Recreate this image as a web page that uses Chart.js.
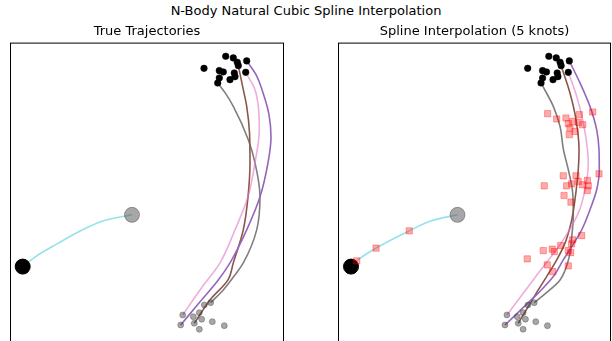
<!DOCTYPE html>
<html>
<head>
<meta charset="utf-8">
<script src="https://cdn.jsdelivr.net/npm/chart.js@4/dist/chart.umd.min.js"></script>
<style>
  html, body { margin: 0; padding: 0; background: #fff; overflow: hidden; width: 612px; height: 341px; }
  #suptitle { position: absolute; left: 0; top: 3px; width: 612px; text-align: center;
              font: 13px "DejaVu Sans"; color: #000; }
  canvas { position: absolute; }
</style>
</head>
<body>
<div id="suptitle">N-Body Natural Cubic Spline Interpolation</div>
<canvas id="trueChart" width="274" height="330" style="left:10px;top:20px"></canvas>
<canvas id="splineChart" width="273" height="330" style="left:338px;top:20px"></canvas>
<script>
// positions of the bodies (x, y)
const startBig = [[12.2, 12.8]];
const endBig = [[1.27, 7.63]];
const startDots = [[17.27, 2.8], [17.07, 1.8], [18.33, 2.63], [18.93, 3.03], [18.43, 1.97], [19.17, 2.37],
  [19.43, 3.8], [20.07, 4.03], [20.23, 2.13], [21.43, 1.73], [18.93, 1.37]];
const endDots = [[21.57, 28.63], [22.33, 28.47], [22.73, 28.03], [22.83, 27.7], [23.67, 28.17], [19.4, 27.43],
  [20.93, 27.2], [21.33, 27.07], [22.43, 26.97], [22.5, 26.6], [23.57, 27.03], [22.0, 26.3], [20.93, 26.47], [20.77, 25.97]];

// true trajectories (listed bottom to top)
const trueCyan = [[1.27, 7.63], [2.6, 8.65], [4.8, 9.95], [7.25, 11.3], [9.5, 12.25], [12.2, 12.8]];
const truePurple = [[17.07, 1.8], [18.9, 4.0], [20.83, 6.3], [22.0, 8.0], [23.67, 11.3], [25.0, 14.6], [25.8, 18.0],
  [26.1, 20.5], [25.9, 22.8], [25.3, 25.0], [24.6, 26.8], [23.67, 28.17]];
const truePink = [[17.27, 2.8], [19.0, 5.3], [21.0, 8.0], [22.5, 11.3], [23.8, 14.6], [24.5, 18.0], [24.93, 21.3],
  [24.83, 23.63], [24.5, 25.3], [23.57, 27.03]];
const trueBrown = [[18.43, 1.97], [20.0, 4.3], [21.8, 6.3], [22.33, 8.0], [23.33, 11.3], [23.8, 14.6], [24.0, 18.0],
  [23.95, 21.0], [23.67, 23.63], [23.33, 25.3], [22.83, 27.7]];
const trueGrey = [[20.07, 4.03], [21.33, 5.3], [22.5, 6.8], [23.33, 8.0], [24.67, 11.3], [25.0, 14.6], [24.5, 18.0],
  [23.83, 20.3], [22.33, 23.63], [21.5, 25.0], [20.77, 25.97]];

// spline trajectories
const splineCyan = [[1.27, 7.63], [1.86, 8.2], [3.84, 9.47], [7.25, 11.2], [9.5, 12.2], [12.2, 12.8]];
const splinePurple = [[17.07, 1.8], [18.9, 3.5], [20.5, 5.0], [22.03, 6.63], [23.05, 8.3], [23.92, 9.63], [24.94, 11.3],
  [25.79, 13.3], [26.48, 15.3], [26.75, 17.3], [26.72, 19.3], [26.48, 21.3], [25.79, 23.63], [24.77, 25.97], [23.67, 28.17]];
const splinePink = [[17.27, 2.8], [20.2, 6.6], [23.05, 10.3], [24.59, 12.97], [25.28, 15.3], [25.62, 17.97], [25.54, 19.3],
  [25.11, 21.97], [24.43, 24.63], [23.57, 27.03]];
const splineBrown = [[18.43, 1.97], [20.36, 5.1], [22.38, 8.3], [23.23, 9.97], [23.92, 12.3], [24.25, 14.3], [24.59, 17.3],
  [24.67, 19.3], [24.36, 22.3], [23.74, 24.97], [22.83, 27.7]];
const splineGrey = [[20.07, 4.03], [21.3, 5.0], [22.72, 6.3], [23.64, 8.5], [23.92, 10.63], [24.08, 12.63], [24.02, 14.97],
  [23.57, 17.3], [23.07, 19.3], [22.72, 21.63], [22.03, 23.63], [20.77, 25.97]];

// interior knots (5 knots per body, the end ones sit under the bodies)
const knots = [[1.86, 8.2], [3.84, 9.47], [7.25, 11.2],
  [21.45, 22.9], [22.38, 22.37], [23.33, 22.47], [24.70, 22.8], [26.07, 23.07], [23.57, 21.9], [24.02, 22.13],
  [24.59, 22.03], [25.04, 21.8], [23.74, 21.47], [24.25, 21.13], [23.67, 20.8],
  [23.05, 16.7], [24.36, 16.7], [24.59, 16.13], [25.52, 16.23], [23.91, 15.9], [23.40, 15.7], [25.04, 15.8],
  [25.62, 15.7], [25.52, 15.23], [26.72, 16.9], [21.10, 15.7], [23.13, 14.73], [23.84, 14.07],
  [24.94, 10.73], [24.02, 10.3], [23.91, 9.9], [23.57, 9.23], [23.81, 9.03], [22.79, 9.73], [21.92, 9.37],
  [21.00, 9.23], [22.13, 9.13], [19.36, 8.4], [23.57, 7.7], [21.97, 7.13], [21.41, 7.8]];

const lineColors = ['rgba(23,190,207,0.45)', '#9467bd', 'rgba(227,119,194,0.6)', '#8c564b', '#7f7f7f'];
// the light-blue path runs left to right, the others run bottom to top
const lineAxes = ['x', 'y', 'y', 'y', 'y'];

const toPts = arr => arr.map(p => ({ x: p[0], y: p[1] }));

// box round the plot area
const framePlugin = {
  id: 'frame',
  afterDraw(chart) {
    const { ctx, chartArea: a } = chart;
    ctx.save();
    ctx.strokeStyle = '#000';
    ctx.lineWidth = 1;
    ctx.strokeRect(a.left + 0.5, a.top + 0.5, a.right - a.left - 1, a.bottom - a.top - 1);
    ctx.restore();
  }
};

let makeChart = (id, title, xMin, xMax, paths, withKnots) => {
  const datasets = [];
  paths.forEach((path, i) => {
    datasets.push({
      data: toPts(path), showLine: true, borderColor: lineColors[i], borderWidth: 1.6,
      pointRadius: 0, indexAxis: lineAxes[i], cubicInterpolationMode: 'monotone', fill: false, order: 3
    });
  });
  datasets.push({
    data: toPts(startDots), pointRadius: 3, borderWidth: 0.8,
    backgroundColor: 'rgba(60,60,60,0.45)', borderColor: 'rgba(60,60,60,0.45)', order: 2
  });
  datasets.push({
    data: toPts(startBig), pointRadius: 7.5, borderWidth: 1,
    backgroundColor: 'rgba(80,80,80,0.5)', borderColor: 'rgba(80,80,80,0.5)', order: 2
  });
  datasets.push({
    data: toPts(endDots), pointRadius: 3.3, borderWidth: 0.5,
    backgroundColor: '#000', borderColor: '#000', order: 1
  });
  datasets.push({
    data: toPts(endBig), pointRadius: 7.5, borderWidth: 1,
    backgroundColor: '#000', borderColor: '#000', order: 1
  });
  if (withKnots) {
    datasets.push({
      data: toPts(knots), pointStyle: 'rect', pointRadius: 4.4, borderWidth: 1,
      backgroundColor: 'rgba(255,0,0,0.33)', borderColor: 'rgba(255,0,0,0.33)', order: 0
    });
  }
  return new Chart(document.getElementById(id), {
    type: 'scatter',
    data: { datasets: datasets },
    options: {
      responsive: false,
      animation: false,
      events: [],
      layout: { padding: 0, autoPadding: false },
      plugins: {
        legend: { display: false },
        tooltip: { enabled: false },
        title: {
          display: true, text: title, color: '#000',
          font: { family: "'DejaVu Sans'", size: 13, weight: 'normal' },
          padding: { top: 4, bottom: 3 }
        }
      },
      scales: {
        x: { type: 'linear', display: false, min: xMin, max: xMax },
        y: { type: 'linear', display: false, min: -0.7, max: 30 }
      }
    },
    plugins: [framePlugin]
  });
};

makeChart('trueChart', 'True Trajectories', 0, 27.4,
  [trueCyan, truePurple, truePink, trueBrown, trueGrey], false);
makeChart('splineChart', 'Spline Interpolation (5 knots)', -0.064, 27.95,
  [splineCyan, splinePurple, splinePink, splineBrown, splineGrey], true);
</script>
</body>
</html>
